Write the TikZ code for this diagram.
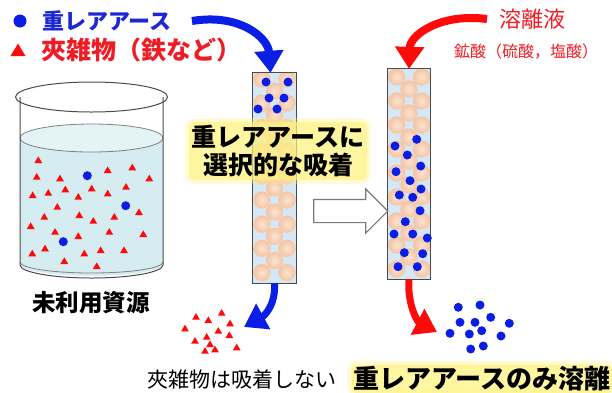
\documentclass[tikz,border=0pt]{standalone}
\usepackage{fontspec}
\usepackage{tikz}
\usetikzlibrary{arrows.meta,shapes.arrows}
\newfontfamily\jpfont{Noto Sans CJK JP}
\definecolor{reeblue}{HTML}{0A1EE6}
\definecolor{reetext}{HTML}{1E28D2}
\definecolor{impred}{HTML}{FF0A0A}
\definecolor{redtext}{HTML}{EE1C24}
\definecolor{colfill}{HTML}{D6E7F6}
\definecolor{beadlight}{HTML}{FBE3D2}
\definecolor{beaddark}{HTML}{F4C4A2}
\definecolor{water}{HTML}{D5ECF1}
\definecolor{watertop}{HTML}{E4F3F6}
\definecolor{glassline}{HTML}{4A4A4A}
\definecolor{arrowgray}{HTML}{7A7A7A}
\definecolor{glowyellow}{HTML}{FFF27A}
\newcommand{\jptext}[2]{\jpfont\fontsize{#1}{#2}\selectfont}

\begin{document}
\begin{tikzpicture}[x=1pt,y=-1pt,
  colbox/.style={fill=colfill,minimum width=43pt,inner sep=0pt},
  bead/.style={inner color=beadlight,outer color=beaddark},
  glow/.style={fill=glowyellow,fill opacity=0.7,text opacity=1,rounded corners=6pt,
    preaction={draw=glowyellow,draw opacity=0.3,line width=8pt,rounded corners=6pt}},
  flowblue/.style={draw=reeblue,line width=8pt,-{Triangle[width=28pt,length=22pt]}},
  flowred/.style={draw=impred,line width=8pt,-{Triangle[width=28pt,length=22pt]}},
]
\useasboundingbox (0,0) rectangle (612,392);

% legend
\fill[reeblue] (20,21) circle (6.5pt);
\node[anchor=west,inner sep=0pt,text=reetext,font=\jptext{22}{26}\bfseries] (ree) at (42,21) {重レアアース};
\fill[impred] (18,50) ++(0,-6.5) -- ++(7.5,12.5) -- ++(-15,0) -- cycle;
\node[anchor=west,inner sep=0pt,text=redtext,font=\jptext{25}{28}\bfseries] (imp) at (41,50) {夾雑物（鉄など）};
\node[anchor=west,inner sep=0pt,text=redtext,font=\jptext{22}{26}] (elu) at (499,19) {溶離液};
\node[anchor=west,inner sep=0pt,text=redtext,font=\jptext{16}{20}] (acid) at (454,52) {鉱酸（硫酸，塩酸）};

% beaker
\fill[water] (20,138) -- (20,264) arc[start angle=180,end angle=360,x radius=71.5pt,y radius=12pt] -- (163,138) -- cycle;
\filldraw[fill=watertop,draw=gray,line width=0.8pt] (91.5,138) ellipse [x radius=71.5pt,y radius=14pt];
\draw[gray,line width=0.8pt] (20,262) arc[start angle=180,end angle=360,x radius=71.5pt,y radius=11pt];
\draw[glassline,line width=1pt] (20,97) -- (20,265) arc[start angle=180,end angle=360,x radius=71.5pt,y radius=13pt] -- (163,97);
\draw[glassline,line width=1pt] (91.5,97) ellipse [x radius=76pt,y radius=15pt];
\foreach \x/\y in {38.3/160,36.7/176.7,60/178.3,107.7/170,132.3/167.3,149.3/178.3,32.7/195,48.3/192.7,
  65.3/189.3,78.3/196.7,91.7/188.3,107.7/193.3,126/186.7,57.3/206.7,44.3/216.7,79.3/215,93.3/220.7,
  114.3/216.7,139/212,30.7/226,55/231.7,78.3/236,109.3/231.7,143.3/234,45/248.3,32.3/253.3,
  84.3/253.3,100.7/250,124/250,64.3/261,96.7/266}
  \fill[impred] (\x,\y) ++(0,-3.6) -- ++(3.9,6.6) -- ++(-7.8,0) -- cycle;
\foreach \x/\y in {87.3/175.7,125.7/205.7,63.3/241.7}
  \fill[reeblue] (\x,\y) circle (4.5pt);
\node[font=\jptext{23.5}{28}\bfseries] (src) at (91,303) {未利用資源};

% adsorption column
\node[colbox,minimum height=210pt] (colA) at (274.5,178) {};
\begin{scope}
  \clip (colA.south west) rectangle (colA.north east);
  \foreach \i in {0,...,16}{
    \pgfmathsetmacro\yy{79+12.1*\i}
    \ifodd\i
      \shade[bead] (274.5,\yy) circle (8.6pt);
    \else
      \shade[bead] (262,\yy) circle (8.6pt);
      \shade[bead] (287,\yy) circle (8.6pt);
    \fi}
\end{scope}
\draw[glassline,line width=0.8pt] (colA.south west) rectangle (colA.north east);
\foreach \x/\y in {266/82,288/82,269/98,284/98,258/109,277/109}
  \fill[reeblue] (\x,\y) circle (4.5pt);

% elution column
\node[colbox,minimum height=210pt] (colB) at (409,174) {};
\begin{scope}
  \clip (colB.south west) rectangle (colB.north east);
  \foreach \i in {0,...,16}{
    \pgfmathsetmacro\yy{77+12*\i}
    \ifodd\i
      \shade[bead] (409,\yy) circle (8.6pt);
    \else
      \shade[bead] (396.7,\yy) circle (8.6pt);
      \shade[bead] (421.7,\yy) circle (8.6pt);
    \fi}
\end{scope}
\draw[glassline,line width=0.8pt] (colB.south west) rectangle (colB.north east);
\foreach \x/\y in {416.7/139.3,395/146,407.3/155,420.7/166,396/171.7,410/180.7,421/189,399.3/195,
  412.7/197.3,420/210.7,405.3/221.7,394/234,412.7/234,427.3/238,404.3/252.7,422.7/253.7,398/266.7,417.3/266.7}
  \fill[reeblue] (\x,\y) circle (4.5pt);

\node[single arrow,draw=arrowgray,fill=white,line width=1.1pt,inner xsep=0pt,inner ysep=11pt,
  minimum height=74pt,single arrow head extend=10.5pt] (shift) at (345,211) {};
\node[glow,inner sep=3pt,align=center,font=\jptext{25}{28}\bfseries] (sel) at (278,151) {重レアアースに\\選択的な吸着};

% outputs
\coordinate (impA) at (244,327);
\coordinate (reeA) at (437,332);
\foreach \x/\y in {196/316.7,208.3/320,221.7/312.7,230/323.3,185/328.3,218.3/330.7,206.7/336.7,
  229.3/335,195/340.7,210/344,205/350.7,215/349.3,236.7/347.3}
  \fill[impred] (\x,\y) ++(0,-3.6) -- ++(3.9,6.6) -- ++(-7.8,0) -- cycle;
\foreach \x/\y in {458.3/307.3,480/305,490.7/317.3,460/322.3,475/322.3,509.3/323.3,481.7/330.7,
  450/333.3,469.3/334,501/336,483.3/346,470.7/349}
  \fill[reeblue] (\x,\y) circle (4.5pt);
\node[font=\jptext{21}{24}] (noads) at (241.5,379) {夾雑物は吸着しない};
\node[glow,inner sep=2pt,font=\jptext{26}{30}\bfseries] (elute) at (482,379) {重レアアースのみ溶離};

% flows
\draw[flowblue] ([xshift=20pt]ree.east) .. controls (240,13) and (268,38) .. ([xshift=-4pt]colA.north);
\draw[flowred] ([xshift=-12pt]elu.west) .. controls (440,13) and (410,35) .. (colB.north);
\draw[flowblue,line width=7pt] (colA.south) .. controls (276,305) and (264,316) .. (impA);
\draw[flowred,line width=7pt] (colB.south) .. controls (407,305) and (418,322) .. (reeA);
\end{tikzpicture}
\end{document}
